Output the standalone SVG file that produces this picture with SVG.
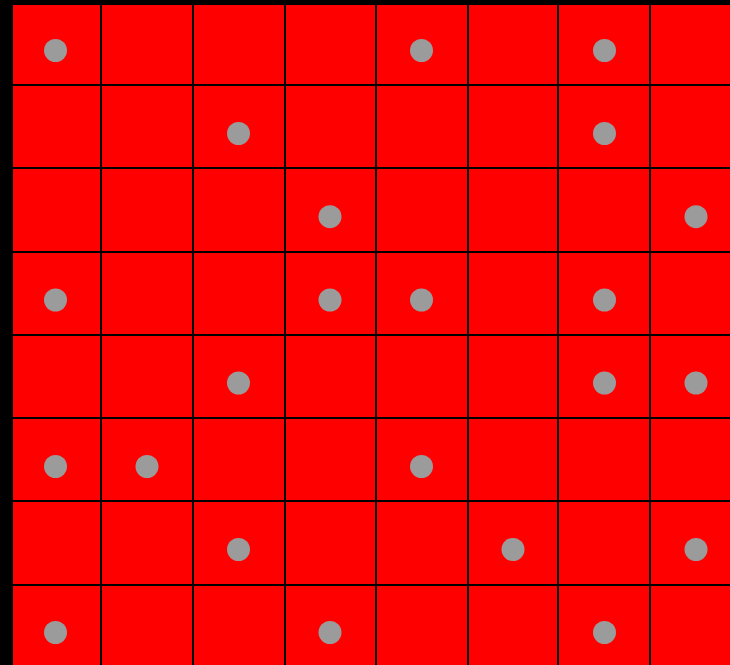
<svg xmlns="http://www.w3.org/2000/svg" width="730" height="665" viewBox="0 0 730 665">
<style>
.grid{stroke:#000;stroke-width:2;fill:none}
.dot{fill:#9b9b9b}
</style>
<rect x="0" y="0" width="730" height="665" fill="#000"/>
<rect x="13" y="5" width="717" height="660" fill="#ff0000"/>
<g class="grid">
<path d="M101 5V665M193 5V665M285 5V665M376 5V665M468 5V665M558 5V665M650 5V665"/>
<path d="M13 85H730M13 168H730M13 252H730M13 335H730M13 418H730M13 501H730M13 585H730"/>
</g>
<g class="dot">
<circle cx="55.5" cy="50.5" r="11.5"/>
<circle cx="421.5" cy="50.5" r="11.5"/>
<circle cx="604.5" cy="50.5" r="11.5"/>
<circle cx="238.5" cy="133.5" r="11.5"/>
<circle cx="604.5" cy="133.5" r="11.5"/>
<circle cx="330" cy="216.7" r="11.5"/>
<circle cx="696" cy="216.7" r="11.5"/>
<circle cx="55.5" cy="300" r="11.5"/>
<circle cx="330" cy="300" r="11.5"/>
<circle cx="421.5" cy="300" r="11.5"/>
<circle cx="604.5" cy="300" r="11.5"/>
<circle cx="238.5" cy="383" r="11.5"/>
<circle cx="604.5" cy="383" r="11.5"/>
<circle cx="696" cy="383" r="11.5"/>
<circle cx="55.5" cy="466.5" r="11.5"/>
<circle cx="147" cy="466.5" r="11.5"/>
<circle cx="421.5" cy="466.5" r="11.5"/>
<circle cx="238.5" cy="549.5" r="11.5"/>
<circle cx="513" cy="549.5" r="11.5"/>
<circle cx="696" cy="549.5" r="11.5"/>
<circle cx="55.5" cy="632.5" r="11.5"/>
<circle cx="330" cy="632.5" r="11.5"/>
<circle cx="604.5" cy="632.5" r="11.5"/>
</g>
</svg>
